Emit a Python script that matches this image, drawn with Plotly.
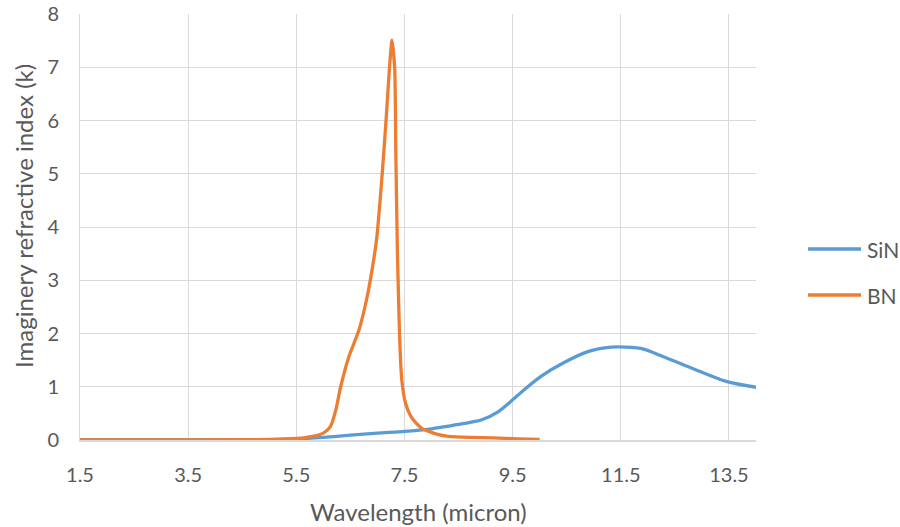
import plotly.graph_objects as go

# ---- data ----
sin_wavelength = [1.5, 3.5, 5.0, 5.5, 6.0, 6.5, 7.0, 7.5, 8.0, 8.31, 8.6, 8.93, 9.23, 9.46,
                  9.72, 10.03, 10.46, 10.89, 11.2, 11.45, 11.87, 12.3, 12.86, 13.45, 14.0]
sin_k = [0.0, 0.0, 0.005, 0.02, 0.05, 0.09, 0.13, 0.16, 0.21, 0.26, 0.31, 0.38, 0.53, 0.72,
         0.95, 1.2, 1.46, 1.66, 1.73, 1.75, 1.72, 1.56, 1.33, 1.10, 0.99]

bn_wavelength = [1.5, 3.0, 4.5, 5.0, 5.5, 5.8, 6.0, 6.13, 6.23, 6.32, 6.47, 6.66, 6.81, 6.90,
                 6.99, 7.07, 7.16, 7.22, 7.27, 7.32, 7.34, 7.37, 7.41, 7.45, 7.52, 7.64,
                 7.82, 8.13, 8.31, 8.7, 9.14, 9.6, 10.0]
bn_k = [0.0, 0.0, 0.005, 0.01, 0.03, 0.07, 0.13, 0.25, 0.56, 1.0, 1.56, 2.07, 2.69, 3.19,
        3.82, 4.76, 6.01, 6.95, 7.51, 6.95, 5.38, 3.51, 1.94, 1.13, 0.69, 0.41,
        0.22, 0.10, 0.07, 0.05, 0.04, 0.02, 0.01]

x_ticks = [1.5, 3.5, 5.5, 7.5, 9.5, 11.5, 13.5]
y_ticks = [0, 1, 2, 3, 4, 5, 6, 7, 8]

series_names = ["SiN", "BN"]
series_colors = ["#5B9BD5", "#ED7D31"]
x_title = "Wavelength (micron)"
y_title = "Imaginery refractive index (k)"

FONT = "Lato"
TXT = "#595959"
GRID = "#D9D9D9"

fig = go.Figure()
fig.add_trace(go.Scatter(x=sin_wavelength, y=sin_k, mode="lines", name=series_names[0],
                         line=dict(color=series_colors[0], width=3.3, shape="spline", smoothing=0.8),
                         showlegend=False))
fig.add_trace(go.Scatter(x=bn_wavelength, y=bn_k, mode="lines", name=series_names[1],
                         line=dict(color=series_colors[1], width=3.3, shape="spline", smoothing=0.6),
                         showlegend=False))

W, H = 900, 527
PL, PR, PT, PB = 80, 756, 14, 440  # plot area in window pixels
L, T, R, B = PL, PT, W - PR, H - PB
pw = PR - PL
ph = PB - PT


def px_x(p):
    return (p - PL) / pw


def px_y(p):
    return 1 - (p - PT) / ph


# legend drawn manually to match the reference sizing
leg_y = [249, 295]
for name, col, yy in zip(series_names, series_colors, leg_y):
    fig.add_shape(type="line", xref="paper", yref="paper",
                  x0=px_x(808), x1=px_x(861), y0=px_y(yy), y1=px_y(yy),
                  line=dict(color=col, width=3.3))
    fig.add_annotation(xref="paper", yref="paper", x=px_x(865), y=px_y(yy),
                       text=name, showarrow=False, xanchor="left", yanchor="middle",
                       font=dict(family=FONT, size=21, color=TXT))

# axis titles
fig.add_annotation(xref="paper", yref="paper", x=px_x(419), y=px_y(511),
                   text=x_title, showarrow=False, xanchor="center", yanchor="middle",
                   font=dict(family=FONT, size=24, color=TXT))
fig.add_annotation(xref="paper", yref="paper", x=px_x(24), y=px_y(216),
                   text=y_title, showarrow=False, xanchor="center", yanchor="middle",
                   textangle=-90, font=dict(family=FONT, size=24, color=TXT))

fig.update_layout(
    width=W, height=H,
    margin=dict(l=L, r=R, t=T, b=B, autoexpand=False),
    paper_bgcolor="white", plot_bgcolor="white",
    font=dict(family=FONT, color=TXT),
    showlegend=False,
)
fig.update_xaxes(
    range=[1.5, 14], tickvals=x_ticks, ticktext=[str(v) for v in x_ticks],
    showgrid=True, gridcolor=GRID, gridwidth=1, zeroline=False,
    showline=True, linecolor=GRID, linewidth=1.5,
    ticks="", ticklabelstandoff=16, automargin=False, ticklabeloverflow="allow",
    tickfont=dict(family=FONT, size=20, color=TXT),
)
fig.update_yaxes(
    range=[0, 8], tickvals=y_ticks,
    showgrid=True, gridcolor=GRID, gridwidth=1, zeroline=False,
    showline=True, linecolor=GRID, linewidth=1,
    ticks="", ticklabelstandoff=16, automargin=False, ticklabeloverflow="allow",
    tickfont=dict(family=FONT, size=20, color=TXT),
)

# remove the browser's default 8px page margin so the figure fills the window exactly
fig.write_html(
    "out.html",
    config={"displayModeBar": False},
    post_script="document.body.style.margin='0';document.body.style.overflow='hidden';",
)
